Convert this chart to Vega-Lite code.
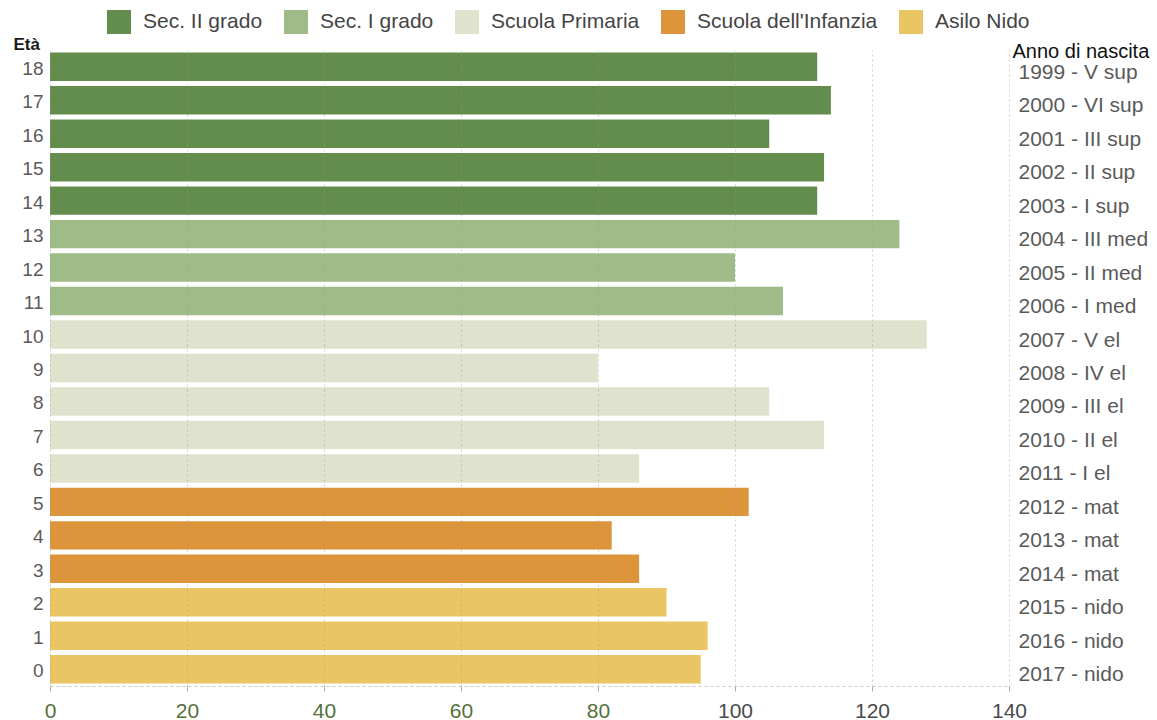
{
  "$schema": "https://vega.github.io/schema/vega-lite/v6.json",
  "width": 959,
  "height": 636,
  "autosize": {"type": "none"},
  "padding": {"left": 50, "top": 50, "right": 148, "bottom": 34},
  "config": {
    "font": "Liberation Sans",
    "view": {"stroke": null}
  },
  "data": {
    "values": [
      {"eta": 18, "valore": 112, "scuola": "Sec. II grado", "anno": "1999 - V sup"},
      {"eta": 17, "valore": 114, "scuola": "Sec. II grado", "anno": "2000 - VI sup"},
      {"eta": 16, "valore": 105, "scuola": "Sec. II grado", "anno": "2001 - III sup"},
      {"eta": 15, "valore": 113, "scuola": "Sec. II grado", "anno": "2002 - II sup"},
      {"eta": 14, "valore": 112, "scuola": "Sec. II grado", "anno": "2003 - I sup"},
      {"eta": 13, "valore": 124, "scuola": "Sec. I grado", "anno": "2004 - III med"},
      {"eta": 12, "valore": 100, "scuola": "Sec. I grado", "anno": "2005 - II med"},
      {"eta": 11, "valore": 107, "scuola": "Sec. I grado", "anno": "2006 - I med"},
      {"eta": 10, "valore": 128, "scuola": "Scuola Primaria", "anno": "2007 - V el"},
      {"eta": 9, "valore": 80, "scuola": "Scuola Primaria", "anno": "2008 - IV el"},
      {"eta": 8, "valore": 105, "scuola": "Scuola Primaria", "anno": "2009 - III el"},
      {"eta": 7, "valore": 113, "scuola": "Scuola Primaria", "anno": "2010 - II el"},
      {"eta": 6, "valore": 86, "scuola": "Scuola Primaria", "anno": "2011 - I el"},
      {"eta": 5, "valore": 102, "scuola": "Scuola dell'Infanzia", "anno": "2012 - mat"},
      {"eta": 4, "valore": 82, "scuola": "Scuola dell'Infanzia", "anno": "2013 - mat"},
      {"eta": 3, "valore": 86, "scuola": "Scuola dell'Infanzia", "anno": "2014 - mat"},
      {"eta": 2, "valore": 90, "scuola": "Asilo Nido", "anno": "2015 - nido"},
      {"eta": 1, "valore": 96, "scuola": "Asilo Nido", "anno": "2016 - nido"},
      {"eta": 0, "valore": 95, "scuola": "Asilo Nido", "anno": "2017 - nido"}
    ]
  },
  "encoding": {
    "x": {
      "field": "valore",
      "type": "quantitative",
      "scale": {"domain": [0, 140], "nice": false},
      "axis": {
        "title": null,
        "values": [0, 20, 40, 60, 80, 100, 120, 140],
        "zindex": 1,
        "grid": true,
        "gridColor": "#9a9a9a",
        "gridOpacity": 0.45,
        "gridDash": [2, 3],
        "domainColor": "#c8c8c8",
        "domainDash": [3, 3],
        "tickColor": "#aaaaaa",
        "tickSize": 5,
        "labelFlush": false,
        "labelFontSize": 21,
        "labelPadding": 9,
        "labelColor": {
          "condition": {"test": "datum.value <= 80", "value": "#55703a"},
          "value": "#4a4a4a"
        }
      }
    }
  },
  "layer": [
    {
      "mark": {"type": "bar"},
      "encoding": {
        "y": {
          "field": "eta",
          "type": "ordinal",
          "sort": "descending",
          "scale": {"paddingInner": 0.15, "paddingOuter": 0.075},
          "axis": {
            "orient": "left",
            "title": "Età",
            "titleAngle": 0,
            "titleAlign": "left",
            "titleBaseline": "alphabetic",
            "titleX": -37,
            "titleY": -1,
            "titleFontSize": 17,
            "titleFontWeight": "bold",
            "titleColor": "#1a1a1a",
            "ticks": false,
            "domain": false,
            "labelFontSize": 19,
            "labelColor": "#5a5a5a",
            "labelPadding": 7,
            "labelOffset": 2
          }
        },
        "color": {
          "field": "scuola",
          "type": "nominal",
          "scale": {
            "domain": ["Sec. II grado", "Sec. I grado", "Scuola Primaria", "Scuola dell'Infanzia", "Asilo Nido"],
            "range": ["#638d4d", "#9fbb88", "#dfe3cd", "#dc953b", "#e9c564"]
          },
          "legend": {
            "orient": "none",
            "legendX": 57,
            "legendY": -40,
            "direction": "horizontal",
            "title": null,
            "padding": 0,
            "symbolType": "square",
            "symbolSize": 576,
            "symbolStrokeWidth": 0,
            "symbolOpacity": 1,
            "labelFontSize": 21,
            "labelColor": "#444444",
            "labelLimit": 0,
            "labelOffset": 12,
            "columnPadding": 21
          }
        }
      }
    },
    {
      "mark": {"type": "bar", "opacity": 0},
      "encoding": {
        "y": {
          "field": "anno",
          "type": "nominal",
          "sort": {"field": "eta", "order": "descending"},
          "scale": {"paddingInner": 0.15, "paddingOuter": 0.075},
          "axis": {
            "orient": "right",
            "title": "Anno di nascita",
            "titleAngle": 0,
            "titleAlign": "left",
            "titleBaseline": "alphabetic",
            "titleX": 3,
            "titleY": 7,
            "titleFontSize": 20,
            "titleFontWeight": "normal",
            "titleColor": "#111111",
            "ticks": false,
            "domain": false,
            "labelFontSize": 21,
            "labelColor": "#5a5a5a",
            "labelLimit": 0,
            "labelPadding": 9,
            "labelOffset": 6
          }
        }
      }
    }
  ],
  "resolve": {"scale": {"y": "independent"}}
}
